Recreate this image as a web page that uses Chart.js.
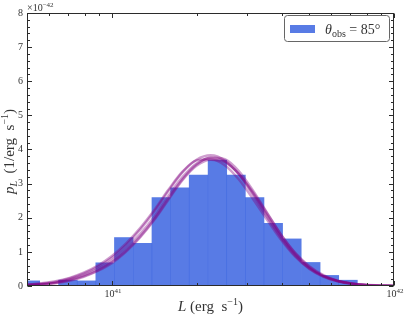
<!DOCTYPE html>
<html><head><meta charset="utf-8">
<script src="https://cdn.jsdelivr.net/npm/chart.js@4.4.0/dist/chart.umd.min.js"></script>
<style>html,body{margin:0;padding:0;background:#fff;}canvas{display:block;}</style>
</head><body>
<canvas id="c" width="407" height="318"></canvas>
<script>
// ---- data (x in log10 of L / erg s^-1, y in units of 1e-42 per erg s^-1) ----
const binCenters = [40.711, 40.777, 40.844, 40.910, 40.976, 41.042, 41.109, 41.175, 41.241,
                    41.307, 41.374, 41.440, 41.506, 41.572, 41.638, 41.705, 41.771, 41.837];
const binHeights = [0.15, 0.00, 0.17, 0.15, 0.68, 1.42, 1.25, 2.59, 2.88,
                    3.25, 3.69, 3.25, 2.59, 1.84, 1.38, 0.69, 0.31, 0.17];

const curveX = [40.70, 40.75, 40.80, 40.85, 40.90, 40.95, 41.00, 41.05, 41.10, 41.15, 41.20, 41.25, 41.30, 41.35,
                41.40, 41.45, 41.50, 41.55, 41.60, 41.65, 41.70, 41.75, 41.80, 41.85, 41.90, 41.95, 42.00];
const curveM = [0.030, 0.056, 0.10, 0.19, 0.32, 0.50, 0.75, 1.10, 1.52, 2.03, 2.64, 3.19, 3.59, 3.75,
                3.65, 3.28, 2.71, 2.07, 1.44, 0.92, 0.53, 0.29, 0.15, 0.072, 0.032, 0.013, 0.004];
const curveA = [0.040, 0.070, 0.12, 0.22, 0.36, 0.56, 0.83, 1.20, 1.65, 2.18, 2.78, 3.33, 3.70, 3.83,
                3.68, 3.27, 2.67, 2.02, 1.40, 0.88, 0.51, 0.28, 0.14, 0.068, 0.030, 0.012, 0.004];
const curveB = [0.020, 0.040, 0.08, 0.15, 0.27, 0.44, 0.67, 1.00, 1.42, 1.93, 2.52, 3.10, 3.52, 3.70,
                3.63, 3.29, 2.75, 2.13, 1.50, 0.97, 0.58, 0.32, 0.16, 0.078, 0.035, 0.014, 0.005];
const curveC = [0.025, 0.050, 0.09, 0.17, 0.29, 0.46, 0.70, 1.03, 1.45, 1.96, 2.56, 3.13, 3.56, 3.77,
                3.72, 3.37, 2.80, 2.15, 1.50, 0.96, 0.56, 0.30, 0.15, 0.072, 0.031, 0.012, 0.004];
const curveD = [0.045, 0.080, 0.14, 0.24, 0.39, 0.60, 0.88, 1.25, 1.70, 2.23, 2.82, 3.35, 3.68, 3.71,
                3.54, 3.12, 2.55, 1.94, 1.35, 0.86, 0.50, 0.27, 0.14, 0.064, 0.027, 0.011, 0.004];
const curves = [curveA, curveB, curveC, curveD, curveM];

const xMin = Math.log10(5e40), xMax = 42;
const xMajorTicks = [41, 42];
const xMajorLabels = [['10', '41'], ['10', '42']];
const xMinorMultipliers = [2, 3, 4, 5, 6, 7, 8, 9];
const yMajorTicks = [0, 1, 2, 3, 4, 5, 6, 7, 8];
const legendLabel = ['θ', 'obs', ' = 85°'];

// ---- style ----
const SERIF = '"Liberation Serif", "DejaVu Serif", serif';
const BAR = 'rgba(65,105,225,0.88)';
const TXT = '#333';

function partsWidth(ctx, parts) {
  let w = 0;
  for (const p of parts) { ctx.font = p.f; w += ctx.measureText(p.t).width; }
  return w;
}
function drawRich(ctx, parts, x, y, align) {
  const w = partsWidth(ctx, parts);
  let cx = align === 'center' ? x - w / 2 : (align === 'right' ? x - w : x);
  ctx.textAlign = 'left'; ctx.textBaseline = 'alphabetic';
  for (const p of parts) {
    ctx.font = p.f;
    ctx.fillText(p.t, cx, y + (p.dy || 0));
    cx += ctx.measureText(p.t).width;
  }
}

const decor = {
  id: 'decor',
  afterDatasetsDraw(chart) {
    const { ctx, chartArea: a, scales: { x, y } } = chart;
    const L = Math.round(a.left) + 0.5, R = Math.round(a.right) - 0.5;
    const T = Math.round(a.top) + 0.5, B = Math.round(a.bottom) - 0.5;
    ctx.save();
    ctx.strokeStyle = '#2b2b2b'; ctx.lineWidth = 1;
    ctx.strokeRect(L, T, R - L, B - T);
    // ticks
    const maj = 4.5, mnr = 2.5;
    ctx.beginPath();
    const xt = [];
    for (const v of xMajorTicks) xt.push([v, maj]);
    for (let n = 40; n <= 41; n++) for (const m of xMinorMultipliers) {
      const v = n + Math.log10(m);
      if (v > xMin && v < xMax) xt.push([v, mnr]);
    }
    for (const [v, len] of xt) {
      const px = Math.round(x.getPixelForValue(v)) + 0.5;
      ctx.moveTo(px, B); ctx.lineTo(px, B - len);
      ctx.moveTo(px, T); ctx.lineTo(px, T + len);
    }
    for (let v = 0; v <= 8.0001; v += 0.2) {
      const isMaj = Math.abs(v - Math.round(v)) < 1e-6;
      const len = isMaj ? maj : mnr;
      const py = Math.round(y.getPixelForValue(v)) + 0.5;
      ctx.moveTo(L, py); ctx.lineTo(L + len, py);
      ctx.moveTo(R, py); ctx.lineTo(R - len, py);
    }
    ctx.stroke();

    ctx.fillStyle = TXT;
    // x tick labels
    xMajorTicks.forEach((v, i) => {
      const px = x.getPixelForValue(v);
      drawRich(ctx, [{ t: xMajorLabels[i][0], f: `10px ${SERIF}` },
                     { t: xMajorLabels[i][1], f: `7px ${SERIF}`, dy: -4.5 }], px + 1, 297, 'center');
    });
    // offset text
    drawRich(ctx, [{ t: '×10', f: `10px ${SERIF}` }, { t: '−42', f: `7px ${SERIF}`, dy: -4.5 }], a.left, 11, 'left');
    // x title
    drawRich(ctx, [{ t: 'L', f: `italic 15px ${SERIF}` }, { t: ' (erg  s', f: `15px ${SERIF}` },
                   { t: '−1', f: `10px ${SERIF}`, dy: -6 }, { t: ')', f: `15px ${SERIF}` }],
             (a.left + a.right) / 2, 311, 'center');
    // y title
    ctx.save();
    ctx.translate(14, (a.top + a.bottom) / 2 + 2);
    ctx.rotate(-Math.PI / 2);
    drawRich(ctx, [{ t: 'p', f: `italic 15px ${SERIF}` }, { t: 'L', f: `italic 10px ${SERIF}`, dy: 2.5 },
                   { t: '  (1/erg  s', f: `15px ${SERIF}` }, { t: '−1', f: `10px ${SERIF}`, dy: -6 },
                   { t: ')', f: `15px ${SERIF}` }], 0, 0, 'center');
    ctx.restore();
    // legend
    ctx.beginPath();
    ctx.roundRect(284.5, 15.5, 105, 26, 3);
    ctx.fillStyle = 'rgba(255,255,255,0.85)'; ctx.fill();
    ctx.strokeStyle = '#666'; ctx.stroke();
    ctx.fillStyle = BAR;
    ctx.fillRect(290, 25, 25, 8);
    ctx.fillStyle = TXT;
    drawRich(ctx, [{ t: legendLabel[0], f: `italic 14px ${SERIF}` },
                   { t: legendLabel[1], f: `10px ${SERIF}`, dy: 3 },
                   { t: legendLabel[2], f: `14px ${SERIF}` }], 325, 34, 'left');
    ctx.restore();
  }
};

const datasets = [{
  type: 'bar', label: 'hist', order: 10,
  data: binCenters.map((c, i) => ({ x: c, y: binHeights[i] })),
  backgroundColor: BAR, borderWidth: 0, barPercentage: 1.0, categoryPercentage: 1.0
}];
curves.forEach((cv, k) => datasets.push({
  type: 'line', label: 'fit' + k, order: 1,
  data: curveX.map((v, i) => ({ x: v, y: cv[i] })),
  borderColor: 'rgba(128,0,128,0.38)', borderWidth: 2.4, pointRadius: 0,
  cubicInterpolationMode: 'monotone', fill: false
}));

new Chart(document.getElementById('c'), {
  type: 'bar',
  data: { datasets },
  options: {
    responsive: false, animation: false, devicePixelRatio: 1,
    layout: { padding: { top: 13, right: 13, left: 0, bottom: 0 } },
    plugins: { legend: { display: false }, tooltip: { enabled: false } },
    scales: {
      x: {
        type: 'linear', min: xMin, max: xMax, offset: false,
        grid: { display: false, drawTicks: false }, border: { display: false },
        ticks: { display: false },
        afterFit(s) { s.height = 32; }
      },
      y: {
        type: 'linear', min: 0, max: 8,
        grid: { display: false, drawTicks: false }, border: { display: false },
        afterBuildTicks(s) { s.ticks = yMajorTicks.map(v => ({ value: v })); },
        ticks: { color: TXT, padding: 4, font: { family: SERIF, size: 10 } },
        afterFit(s) { s.width = 27; }
      }
    }
  },
  plugins: [decor]
});
</script>
</body></html>
